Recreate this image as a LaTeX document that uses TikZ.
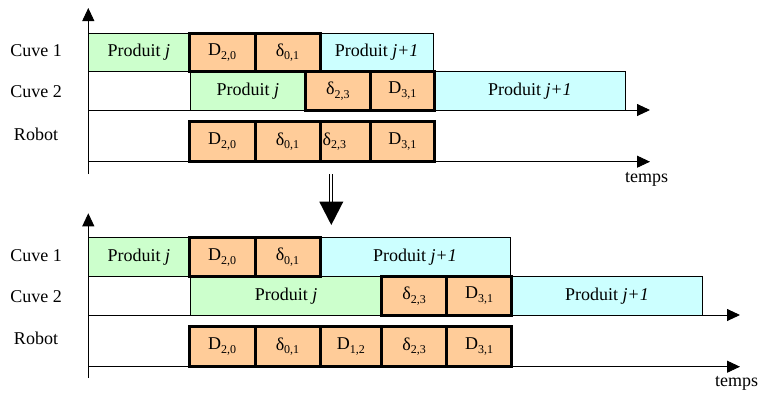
\documentclass[tikz,border=0pt]{standalone}
\usepackage{fontspec}
\setmainfont{Liberation Serif}
\usetikzlibrary{arrows.meta}
\definecolor{vert}{HTML}{CCFFCC}
\definecolor{orange}{HTML}{FFCC99}
\definecolor{cyanc}{HTML}{CCFFFF}
\newcommand\sub[1]{\raisebox{-0.45ex}{\fontsize{12}{13}\selectfont #1}}
\newcommand\jpu{\textit{j}\kern1pt+\kern1pt\textit{1}}
\newcommand\bx[7]{\node[#6, minimum width={(#4-#2)*1pt}, minimum height={(#5-#3)*1pt}] (#1) at ({(#2+#4)/2},{(#3+#5)/2}) {#7};}
\begin{document}
\begin{tikzpicture}[x=1pt,y=-1pt,
  every node/.style={font=\fontsize{18}{21}\selectfont, inner sep=0pt, outer sep=0pt},
  thinbox/.style={draw=black, line width=0.9pt},
  gbox/.style={thinbox, fill=vert},
  cbox/.style={thinbox, fill=cyanc},
  obox/.style={draw=black, line width=3pt, fill=orange},
  axis/.style={line width=0.9pt, -{Triangle[length=13pt,width=12pt]}},
  lbl/.style={anchor=center}]
\useasboundingbox (0,0) rectangle (758,394);
% ---------- top diagram ----------
\coordinate (o1) at (88.3,174);
\coordinate (t1) at (88.3,8);
\coordinate (a1s) at (88.3,110);
\coordinate (a1e) at (650,110);
\coordinate (b1s) at (88.3,161.7);
\coordinate (b1e) at (650,161.7);
\draw[axis] (o1) -- (t1);
\draw[axis] (a1s) -- (a1e);
\draw[axis] (b1s) -- (b1e);
\node[lbl] (c1a) at (36,51) {Cuve 1};
\node[lbl] (c2a) at (36,92) {Cuve 2};
\node[lbl] (ra) at (36,134) {Robot};
\node[lbl] (tempsa) at (646.7,179) {temps};
\bx{pa1}{88.3}{33.3}{189.3}{71.7}{gbox}{Produit \textit{j}}
\bx{pa2}{320}{33.3}{433.3}{71.7}{cbox}{Produit \jpu}
\bx{pa3}{190.7}{71.7}{305}{110}{gbox}{Produit \textit{j}}
\bx{pa4}{434}{71.7}{625.7}{110}{cbox}{Produit \jpu}
\bx{oa1}{189.3}{33.3}{255}{71.7}{obox}{D\sub{2,0}}
\bx{oa2}{255}{33.3}{320}{71.7}{obox}{δ\sub{0,1}}
\bx{oa3}{305}{71.7}{370.7}{110}{obox}{δ\sub{2,3}}
\bx{oa4}{370.7}{71.7}{434}{110}{obox}{D\sub{3,1}}
\bx{ra1}{189.3}{121.7}{255}{161.7}{obox}{D\sub{2,0}}
\bx{ra2}{255}{121.7}{320}{161.7}{obox}{δ\sub{0,1}}
\bx{ra3}{320}{121.7}{370.7}{161.7}{obox}{δ\sub{2,3}\hspace*{22pt}}
\bx{ra4}{370.7}{121.7}{434}{161.7}{obox}{D\sub{3,1}}
% ---------- transition arrow ----------
\draw[line width=0.9pt] (329.2,174) -- (329.2,202);
\draw[line width=0.9pt] (332.6,174) -- (332.6,202);
\fill[black] (319.3,201.7) -- (343.3,201.7) -- (331.3,225) -- cycle;
% ---------- bottom diagram ----------
\coordinate (o2) at (88.3,378);
\coordinate (t2) at (88.3,213.3);
\coordinate (a2s) at (88.3,315);
\coordinate (a2e) at (740,315);
\coordinate (b2s) at (88.3,366.7);
\coordinate (b2e) at (740,366.7);
\draw[axis] (o2) -- (t2);
\draw[axis] (a2s) -- (a2e);
\draw[axis] (b2s) -- (b2e);
\node[lbl] (c1b) at (36,256) {Cuve 1};
\node[lbl] (c2b) at (36,297) {Cuve 2};
\node[lbl] (rb) at (36,338.3) {Robot};
\node[lbl] (tempsb) at (736.7,383) {temps};
\bx{pb1}{88.3}{237.7}{189.3}{276.7}{gbox}{Produit \textit{j}}
\bx{pb2}{320}{237.7}{510}{276.7}{cbox}{Produit \jpu}
\bx{pb3}{190.7}{276.7}{381.7}{315}{gbox}{Produit \textit{j}}
\bx{pb4}{511.7}{276.7}{702.3}{315}{cbox}{Produit \jpu}
\bx{ob1}{189.3}{237.7}{255}{276.7}{obox}{D\sub{2,0}}
\bx{ob2}{255}{237.7}{320}{276.7}{obox}{δ\sub{0,1}}
\bx{ob3}{381.7}{276.7}{446.7}{315}{obox}{δ\sub{2,3}}
\bx{ob4}{446.7}{276.7}{511.7}{315}{obox}{D\sub{3,1}}
\bx{rb1}{189.3}{326.7}{255}{366.7}{obox}{D\sub{2,0}}
\bx{rb2}{255}{326.7}{320}{366.7}{obox}{δ\sub{0,1}}
\bx{rb3}{320}{326.7}{381.7}{366.7}{obox}{D\sub{1,2}}
\bx{rb4}{381.7}{326.7}{446.7}{366.7}{obox}{δ\sub{2,3}}
\bx{rb5}{446.7}{326.7}{511.7}{366.7}{obox}{D\sub{3,1}}
\end{tikzpicture}
\end{document}
